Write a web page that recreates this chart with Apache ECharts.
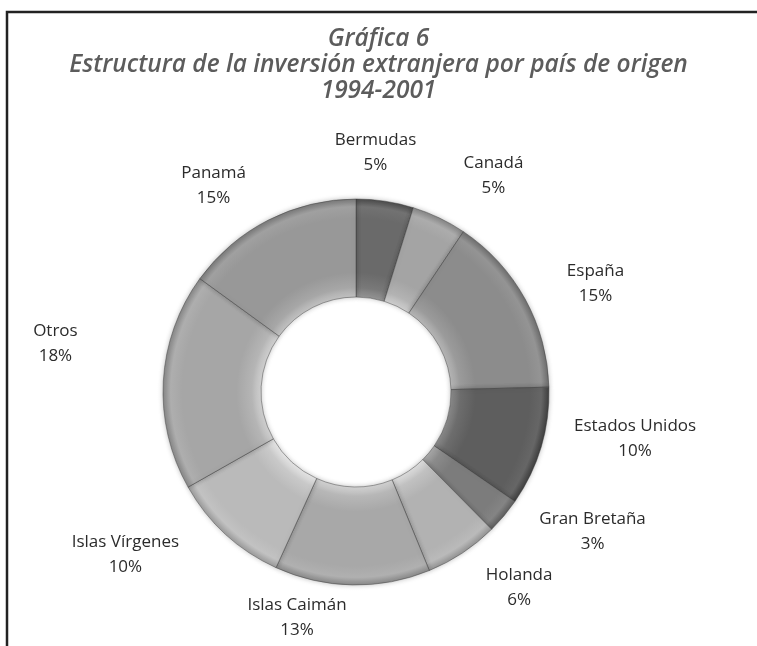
<!DOCTYPE html>
<html>
<head>
<meta charset="utf-8">
<script src="https://cdn.jsdelivr.net/npm/echarts@6/dist/echarts.min.js"></script>
<style>
  html, body { margin: 0; padding: 0; background: #fff; }
  #chart { width: 757px; height: 646px; }
</style>
</head>
<body>
<div id="chart"></div>
<script>
// datos (porcentaje de la inversión extranjera)
const paises = ['Bermudas', 'Canadá', 'España', 'Estados Unidos', 'Gran Bretaña',
  'Holanda', 'Islas Caimán', 'Islas Vírgenes', 'Otros', 'Panamá'];
const valores = [4.8, 4.6, 15.2, 10.0, 3.0, 6.2, 13.0, 10.0, 18.2, 15.0];

// tonos de gris de cada sector
const grises = ['#6a6a6a', '#a4a4a4', '#8c8c8c', '#5e5e5e', '#7c7c7c',
  '#b2b2b2', '#a8a8a8', '#bababa', '#a6a6a6', '#989898'];
// desplazamiento de cada etiqueta respecto a su posición por defecto (px)
const desplEtiquetas = [[-20, 21], [24, 21], [9, 18], [27, -28], [35, -29],
  [18, -24], [-54, -37], [-53, -31], [-38, -33], [-23, 28]];

const cx = 356, cy = 392, rOut = 193, rIn = 95;

function shade(hex, d) {
  const n = parseInt(hex.slice(1), 16);
  const c = [n >> 16, (n >> 8) & 255, n & 255].map(v => Math.max(0, Math.min(255, v + d)));
  return 'rgb(' + c.join(',') + ')';
}

function relleno(hex) {
  return {
    type: 'radial', x: cx, y: cy, r: rOut, global: true,
    colorStops: [
      { offset: 0.49, color: shade(hex, 45) },
      { offset: 0.54, color: shade(hex, 15) },
      { offset: 0.62, color: shade(hex, 0) },
      { offset: 0.9, color: shade(hex, 0) },
      { offset: 0.96, color: shade(hex, 8) },
      { offset: 1, color: shade(hex, -30) }
    ]
  };
}

const estiloTexto = {
  fontFamily: 'Open Sans',
  fontSize: 17,
  lineHeight: 25,
  color: '#2b2b2b'
};

document.addEventListener('DOMContentLoaded', () => {
  const myChart = echarts.init(document.getElementById('chart'));

  const anillo = paises.map((p, i) => ({
    name: p,
    value: valores[i],
    itemStyle: { color: relleno(grises[i]) }
  }));

  const etiquetas = paises.map((p, i) => {
    const [ox, oy] = desplEtiquetas[i];
    return {
      name: p,
      value: valores[i],
      label: {
        padding: [0, Math.max(0, -2 * ox), 0, Math.max(0, 2 * ox)],
        rich: {
          s: { fontSize: 1, lineHeight: Math.abs(2 * oy) },
          t: estiloTexto
        }
      }
    };
  });

  const option = {
    backgroundColor: '#fff',
    animation: false,
    title: {
      text: 'Gráfica 6\nEstructura de la inversión extranjera por país de origen\n1994-2001',
      left: 'center',
      top: 21,
      textStyle: {
        fontFamily: 'Open Sans',
        fontStyle: 'italic',
        fontWeight: 600,
        fontSize: 24.5,
        lineHeight: 26,
        color: '#5c5c5c'
      }
    },
    graphic: [{
      type: 'polyline',
      silent: true,
      shape: { points: [[7, 646], [7, 12], [757, 12]] },
      style: { stroke: '#222', lineWidth: 2.5, fill: null }
    }],
    series: [
      {
        name: 'Inversión',
        type: 'pie',
        center: [cx, cy],
        radius: [rIn, rOut],
        startAngle: 90,
        silent: true,
        label: { show: false },
        labelLine: { show: false },
        itemStyle: {
          borderColor: 'rgba(60,60,60,0.45)',
          borderWidth: 1,
          shadowBlur: 5,
          shadowColor: 'rgba(0,0,0,0.25)'
        },
        data: anillo
      },
      {
        // serie transparente sólo para situar las etiquetas
        name: 'Etiquetas',
        type: 'pie',
        center: [cx, cy],
        radius: [250, 270],
        startAngle: 90,
        silent: true,
        avoidLabelOverlap: false,
        labelLayout: { hideOverlap: false },
        itemStyle: { color: 'rgba(0,0,0,0)' },
        labelLine: { show: false },
        label: {
          show: true,
          position: 'inside',
          align: 'center',
          formatter: (p) => {
            const oy = desplEtiquetas[p.dataIndex][1];
            const cuerpo = '{t|' + p.name + '}\n{t|' + Math.round(p.percent) + '%}';
            return oy > 0 ? '{s| }\n' + cuerpo : cuerpo + '\n{s| }';
          }
        },
        data: etiquetas
      }
    ]
  };

  myChart.setOption(option);
  window.addEventListener('resize', () => myChart.resize());
});
</script>
</body>
</html>
